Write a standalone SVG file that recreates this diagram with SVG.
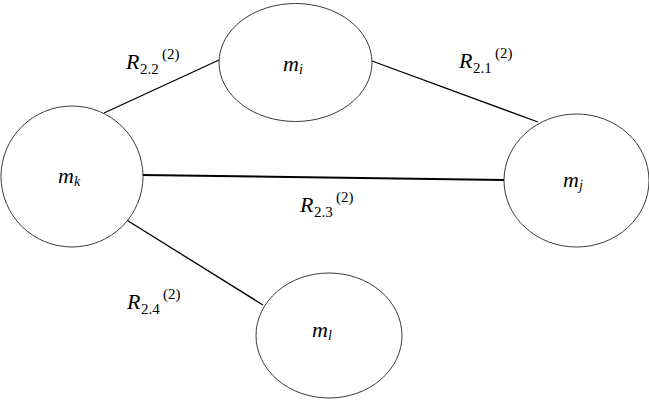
<svg xmlns="http://www.w3.org/2000/svg" width="649" height="410" viewBox="0 0 649 410">
<style>
.node{fill:#fff;stroke:#222;stroke-width:0.9}
.edge{stroke:#000;stroke-width:1.3;fill:none}
text{font-family:'Liberation Serif','Times New Roman',serif;fill:#000}
.main{font-style:italic;font-size:22px}
.sub{font-style:normal;font-size:15px}
.isub{font-style:italic;font-size:14px}
</style>
<rect width="649" height="410" fill="#fff"/>
<g id="connectors">
<line class="edge" x1="104" y1="113" x2="219" y2="60"/>
<line class="edge" x1="372" y1="61" x2="538" y2="122"/>
<line class="edge" x1="142" y1="175" x2="504" y2="180" style="stroke-width:2"/>
<line class="edge" x1="125" y1="219" x2="263" y2="305"/>
</g>
<g id="node-mi">
<ellipse class="node" cx="295.5" cy="62.5" rx="76.5" ry="59"/>
<text class="main" x="283" y="71">m<tspan class="isub" x="299" y="74">i</tspan></text>
</g>
<g id="node-mk">
<ellipse class="node" cx="72" cy="176.5" rx="71" ry="70.5"/>
<text class="main" x="58" y="183">m<tspan class="isub" x="74" y="186">k</tspan></text>
</g>
<g id="node-mj">
<ellipse class="node" cx="576.5" cy="180.5" rx="72.5" ry="66.5"/>
<text class="main" x="563" y="187">m<tspan class="isub" x="579" y="190">j</tspan></text>
</g>
<g id="node-ml">
<ellipse class="node" cx="329" cy="335.5" rx="73" ry="62.5"/>
<text class="main" x="312" y="337">m<tspan class="isub" x="328" y="340">l</tspan></text>
</g>
<g id="labels">
<text class="main" x="126" y="69">R<tspan class="sub" x="140" y="74">2.2</tspan><tspan class="sub" x="162" y="59">(2)</tspan></text>
<text class="main" x="459" y="68">R<tspan class="sub" x="473" y="73">2.1</tspan><tspan class="sub" x="495" y="58">(2)</tspan></text>
<text class="main" x="300" y="212">R<tspan class="sub" x="314" y="217">2.3</tspan><tspan class="sub" x="336" y="202">(2)</tspan></text>
<text class="main" x="127" y="309">R<tspan class="sub" x="141" y="314">2.4</tspan><tspan class="sub" x="163" y="299">(2)</tspan></text>
</g>
</svg>
